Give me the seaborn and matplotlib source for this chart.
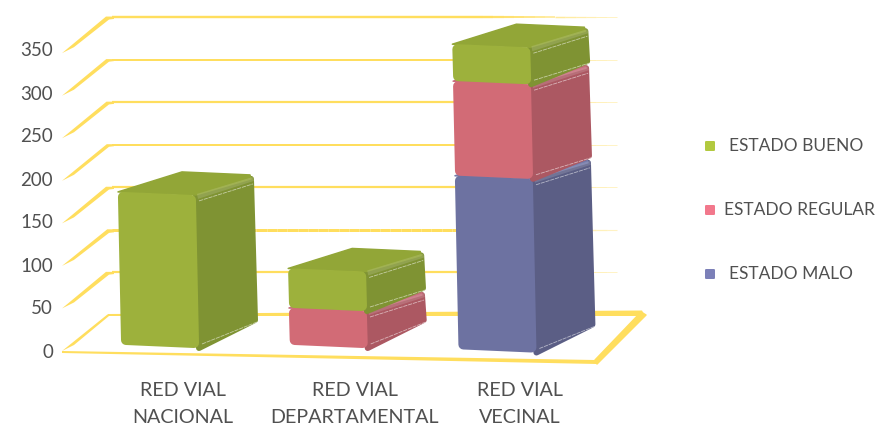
import numpy as np
import seaborn as sns
import matplotlib
matplotlib.use("Agg")
import matplotlib.pyplot as plt
from matplotlib.patches import Polygon

sns.set_theme(style="white")
plt.rcParams['font.family'] = ['Lato', 'DejaVu Sans']

# Data
categories = ["RED VIAL\nNACIONAL", "RED VIAL\nDEPARTAMENTAL", "RED VIAL\nVECINAL"]
estado_malo = [0, 0, 202]
estado_regular = [0, 43, 110]
estado_bueno = [178, 46, 43]
y_ticks = [0, 50, 100, 150, 200, 250, 300, 350]
legend_labels = ["ESTADO BUENO", "ESTADO REGULAR", "ESTADO MALO"]

# Colours: front, side, top
green = ("#9DB13C", "#7F9333", "#92A637")
red = ("#D26B76", "#AC5862", "#C66E7C")
blue = ("#6D72A1", "#5B5E85", "#7379A8")
legend_colors = ["#B2C93F", "#F2788C", "#7C80B8"]
yellow = "#FFDE5E"
text_color = "#505050"

# Layout in pixels of the 877x426 picture
W, H = 877, 426
CAT_PX = 168.7
CAT0_PX = 160
ZERO_PX = 345
UNIT_PX = 0.86
FLOOR_SAG = [0, 0, 4.5]

fig = plt.figure(figsize=(W / 100, H / 100), dpi=100)
ax = fig.add_axes([0, 0, 1, 1])


def to_data(px, py):
    return (px - CAT0_PX) / CAT_PX, (ZERO_PX - py) / UNIT_PX


def to_px(x, v):
    return x * CAT_PX + CAT0_PX, ZERO_PX - v * UNIT_PX


def poly(points, color, lw=0.0, z=1, **kw):
    pts = [to_data(*p) for p in points]
    patch = Polygon(pts, closed=True, facecolor=color, edgecolor=color if lw else "none",
                    linewidth=lw * 0.72, joinstyle="round", zorder=z, **kw)
    ax.add_patch(patch)


# Step 1: stacked bars through seaborn, the 3D look is added on top afterwards
bottom_regular = np.array(estado_malo)
bottom_bueno = bottom_regular + np.array(estado_regular)
series = [(estado_malo, np.zeros(3), blue),
          (estado_regular, bottom_regular, red),
          (estado_bueno, bottom_bueno, green)]
for values, bottoms, colors in series:
    sns.barplot(x=categories, y=values, bottom=bottoms, color=colors[0], saturation=1,
                width=78 / CAT_PX, ax=ax)

ax.set_xlim(-CAT0_PX / CAT_PX, (W - CAT0_PX) / CAT_PX)
ax.set_ylim((ZERO_PX - H) / UNIT_PX, ZERO_PX / UNIT_PX)

# Keep the flat bars before anything else gets added to the axes
flat_bars = list(ax.patches)

# Step 2: back wall lines and the slanted strokes on the left
TIP_X, ELBOW_X, END_X = 62, 108, 645
line_w = [1.0, 2.2, 3.0, 2.2, 2.0, 2.2, 2.0, 2.4]
taper_w = [1.0, 4.0, 1.5, 4.0, 2.5, 3.0, 3.5, 4.0]
for tick, lw, tw in zip(y_ticks, line_w, taper_w):
    back_y = 315 - 0.851 * tick
    tip_y = back_y + 36
    poly([(TIP_X, tip_y), (ELBOW_X - tw / 2, back_y - 0.6), (ELBOW_X + 6, back_y - 0.6),
          (ELBOW_X + 6, back_y + lw - 0.6), (ELBOW_X + 1, back_y + lw), (TIP_X + 12, tip_y - 6)],
         yellow, z=1)
    xs = np.linspace(ELBOW_X + 4, END_X - (28 if tick else 0), 50)
    for a, b in zip(xs[:-1], xs[1:]):
        fade = 1.0 if a < 480 else max(0.25, 1 - (a - 480) / 200)
        ax.plot(*zip(to_data(a, back_y), to_data(b, back_y)), color=yellow, alpha=fade,
                lw=lw * 0.72 if a < 480 else max(0.7, lw * 0.72 * fade),
                solid_capstyle="butt", zorder=1)

# Step 3: floor outline, thin on the left and thick on the right
poly([(TIP_X, 351), (595, 360), (597, 364), (TIP_X, 353)], yellow, z=1)
poly([(108, 314), (642, 310.5), (645, 316), (108, 316)], yellow, z=1)
poly([(595, 360), (641, 312), (646, 315), (597, 364)], yellow, lw=1.5, z=1)

# Step 4: turn each flat bar into a rounded box with side and top faces
for idx, bar in enumerate(flat_bars):
    height = bar.get_height()
    if height <= 0:
        bar.remove()
        continue
    x0, b = bar.get_x(), bar.get_y()
    x1, t = x0 + bar.get_width(), b + height
    cat = int(round((x0 + x1) / 2))
    front = bar.get_facecolor()
    colors = next(c for c in (green, red, blue)
                  if matplotlib.colors.to_rgba(c[0]) == tuple(front))
    z = 3 + idx
    bar.remove()

    left, bl = to_px(x0, b)
    right, tl = to_px(x1, t)
    bl += FLOOR_SAG[cat]
    tl += FLOOR_SAG[cat]
    lean_b = -0.017 * b
    lean_t = -0.017 * t
    tilt = 3

    # front corners
    ftl = (left + lean_t, tl)
    ftr = (right + lean_t, tl + tilt)
    fbl = (left + lean_b, bl)
    fbr = (right + lean_b, bl + tilt)
    # back corners, a box resting on another one has a shorter lower edge
    btr = (ftr[0] + 58, ftr[1] - 19)
    bbr = (fbr[0] + 59, fbr[1] - (25 if b == 0 else 20))
    btl = (ftl[0] + 64, ftl[1] - 20)

    poly([ftr, (btr[0] - 3, btr[1] + 3), (bbr[0] - 3, bbr[1] - 3), fbr], colors[1], lw=6, z=z)
    poly([ftl, btl, (btr[0] - 4, btr[1] - 1), (btr[0] - 3, btr[1] + 3), ftr], colors[2], lw=1.5, z=z + 0.1)

    # lighter band and thin pale lines along the side face
    poly([(ftr[0] + 1, ftr[1] - 1), (btr[0] - 1, btr[1] + 1), (btr[0], btr[1] + 5), (ftr[0] + 2, ftr[1] + 4)],
         "white", z=z + 0.2, alpha=0.14)
    pale = dict(color="white", alpha=0.55, lw=0.6, zorder=z + 0.3, ls=(0, (5, 1)))
    ax.plot(*zip(to_data(ftr[0] + 3, ftr[1] + 6), to_data(btr[0] - 1, btr[1] + 8)), **pale)
    ax.plot(*zip(to_data(fbr[0] + 3, fbr[1] - 4), to_data(bbr[0] - 1, bbr[1] - 1)), **pale)

    r = 5
    poly([(ftl[0] + r, ftl[1] + r), (ftr[0] - r, ftr[1] + r), (fbr[0] - r, fbr[1] - r), (fbl[0] + r, fbl[1] - r)],
         colors[0], lw=2 * r, z=z + 0.4)

# Step 5: texts, drawn by hand because the axes fill the whole figure
ax.axis("off")
for tick in y_ticks:
    lx, ly = to_data(53, 352 - 0.86 * tick)
    ax.text(lx, ly, str(tick), ha="right", va="center", fontsize=13.5, color=text_color)

label_x = [183, 354.5, 520]
for name, cx in zip(categories, label_x):
    lx, ly = to_data(cx, 404)
    ax.text(lx, ly, name, ha="center", va="center", fontsize=14.2, color=text_color,
            linespacing=1.65)

legend_text_x = [729, 724, 729]
legend_y = [146, 210, 274]
legend_box_x = [710, 710, 710]
for name, col, tx, ty, bx in zip(legend_labels, legend_colors, legend_text_x, legend_y, legend_box_x):
    lx, ly = to_data(tx, ty)
    ax.text(lx, ly, name, ha="left", va="center", fontsize=12.55, color=text_color)
    poly([(bx - 4, ty - 4), (bx + 4, ty - 4), (bx + 4, ty + 4), (bx - 4, ty + 4)], col, lw=2, z=3)

plt.savefig("out.png", dpi=100)
plt.close()
